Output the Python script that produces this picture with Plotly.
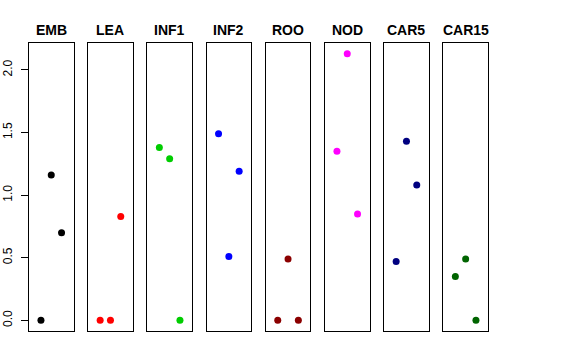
import plotly.graph_objects as go

groups = ["EMB", "LEA", "INF1", "INF2", "ROO", "NOD", "CAR5", "CAR15"]
colors = ["#000000", "#FF0000", "#00CD00", "#0000FF", "#8B0000", "#FF00FF", "#000080", "#006400"]
replicates = [1, 2, 3]
EMB = [0.00, 1.16, 0.70]
LEA = [0.00, 0.00, 0.83]
INF1 = [1.38, 1.29, 0.00]
INF2 = [1.49, 0.51, 1.19]
ROO = [0.00, 0.49, 0.00]
NOD = [1.35, 2.13, 0.85]
CAR5 = [0.47, 1.43, 1.08]
CAR15 = [0.35, 0.49, 0.00]
series = [EMB, LEA, INF1, INF2, ROO, NOD, CAR5, CAR15]
y_ticks = [0.0, 0.5, 1.0, 1.5, 2.0]
y_tick_labels = ["0.0", "0.5", "1.0", "1.5", "2.0"]

W, H = 576, 360
left0, step, pw = 29.0, 59.2, 44.5
top, bottom = 43.0, 331.0
title_y = 30.0
ymax = max(max(s) for s in series)
pad = 0.04 * ymax
yrange = [-pad, ymax + pad]
xrange = [-0.16, 4.16]

fig = go.Figure()
layout = dict(
    width=W, height=H, margin=dict(l=0, r=0, t=0, b=0, autoexpand=False),
    paper_bgcolor="white", plot_bgcolor="white", showlegend=False,
    template="none",
    font=dict(family="Liberation Sans, Arial, sans-serif", color="black"),
)
annotations = []
for i, (g, c, s) in enumerate(zip(groups, colors, series)):
    n = "" if i == 0 else str(i + 1)
    fig.add_trace(go.Scatter(
        x=replicates, y=s, mode="markers",
        marker=dict(color=c, size=7, line=dict(width=0)),
        xaxis="x" + n, yaxis="y" + n, hoverinfo="y",
    ))
    x0 = (left0 + i * step) / W
    x1 = (left0 + i * step + pw) / W
    layout["xaxis" + n] = dict(
        domain=[x0, x1], range=xrange, anchor="y" + n, automargin=False,
        showgrid=False, zeroline=False, showticklabels=False, ticks="",
        showline=True, mirror=True, linecolor="black", linewidth=1,
    )
    yax = dict(
        domain=[(H - bottom) / H, (H - top) / H], range=yrange, anchor="x" + n,
        automargin=False, showgrid=False, zeroline=False,
        showline=True, mirror=True, linecolor="black", linewidth=1,
    )
    if i == 0:
        yax.update(tickmode="array", tickvals=y_ticks, ticktext=y_tick_labels,
                   ticks="outside", ticklen=7, tickwidth=1, tickcolor="black",
                   tickangle=-90, ticklabelstandoff=4,
                   tickfont=dict(size=12, color="black"))
    else:
        yax.update(showticklabels=False, ticks="")
    layout["yaxis" + n] = yax
    annotations.append(dict(
        text="<b>" + g + "</b>", x=(x0 + x1) / 2, y=(H - title_y) / H,
        xref="paper", yref="paper", showarrow=False,
        xanchor="center", yanchor="middle",
        font=dict(size=14, color="black", family="Liberation Sans, Arial, sans-serif"),
    ))
layout["annotations"] = annotations
fig.update_layout(**layout)
fig.write_html("out.html", config={"displayModeBar": False},
               post_script="document.body.style.margin='0';")
